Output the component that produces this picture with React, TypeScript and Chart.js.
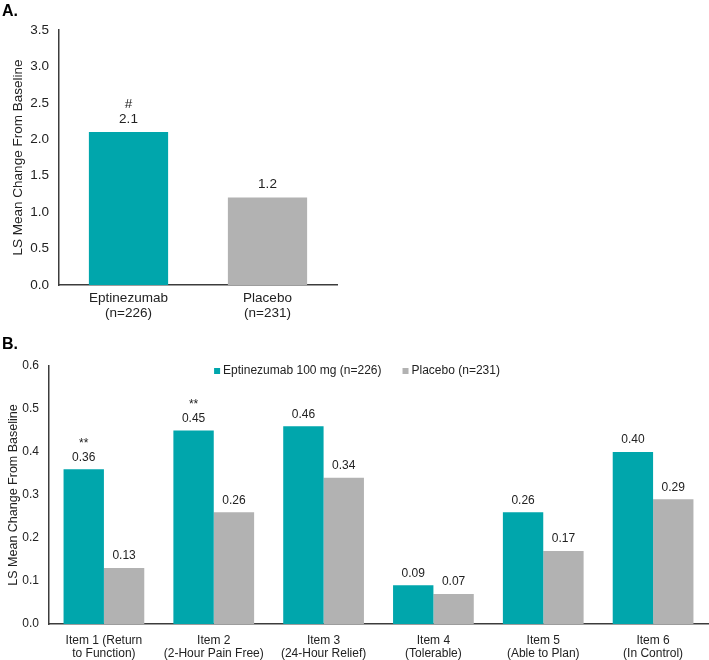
import React, { useEffect, useRef } from "react";
import { Chart, registerables } from "chart.js";

Chart.register(...registerables);

const FONT = "'Liberation Sans', Arial, Helvetica, sans-serif";
const TEXT = "#222222";
const AXIS = "#3c3c3c";
const TEAL = "#00A6AC";
const GRAY = "#B2B2B2";

// ---- Panel A data ----
const categoriesA: string[][] = [["Eptinezumab", "(n=226)"], ["Placebo", "(n=231)"]];
const valuesA: number[] = [2.1, 1.2];
const marksA: string[] = ["#", ""];
const yTitle = "LS Mean Change From Baseline";

// ---- Panel B data ----
const categoriesB: string[][] = [
  ["Item 1 (Return", "to Function)"],
  ["Item 2", "(2-Hour Pain Free)"],
  ["Item 3", "(24-Hour Relief)"],
  ["Item 4", "(Tolerable)"],
  ["Item 5", "(Able to Plan)"],
  ["Item 6", "(In Control)"],
];
const seriesNamesB: string[] = ["Eptinezumab 100 mg (n=226)", "Placebo (n=231)"];
const eptinezumabB: number[] = [0.36, 0.45, 0.46, 0.09, 0.26, 0.4];
const placeboB: number[] = [0.13, 0.26, 0.34, 0.07, 0.17, 0.29];
const marksEptB: string[] = ["**", "**", "", "", "", ""];
const marksPlaB: string[] = ["", "", "", "", "", ""];

const valueLabels = {
  id: "valueLabels",
  afterDatasetsDraw(chart: any, _args: any, opts: any) {
    const ctx = chart.ctx;
    chart.data.datasets.forEach((ds: any, di: number) => {
      const meta = chart.getDatasetMeta(di);
      meta.data.forEach((el: any, i: number) => {
        const v = ds.data[i];
        ctx.save();
        ctx.font = `${opts.size}px ${FONT}`;
        ctx.fillStyle = TEXT;
        ctx.textAlign = "center";
        ctx.textBaseline = "middle";
        ctx.fillText(Number(v).toFixed(opts.decimals), el.x, el.y - opts.offset);
        const mark = opts.marks && opts.marks[di] ? opts.marks[di][i] : "";
        if (mark) ctx.fillText(mark, el.x, el.y - opts.offset - opts.markGap);
        ctx.restore();
      });
    });
  },
};

const customLegend = {
  id: "customLegend",
  afterDraw(chart: any, _args: any, opts: any) {
    if (!opts || !opts.show) return;
    const ctx = chart.ctx;
    ctx.save();
    ctx.font = `${opts.size}px ${FONT}`;
    ctx.textBaseline = "middle";
    ctx.textAlign = "left";
    const box = 6;
    const gap = 3;
    const spacing = 21;
    const items = chart.data.datasets.map((ds: any) => ({
      label: ds.label,
      color: ds.backgroundColor,
      w: box + gap + ctx.measureText(ds.label).width,
    }));
    const total = items.reduce((s: number, it: any) => s + it.w, 0) + spacing * (items.length - 1);
    let x = opts.centerX - total / 2;
    const y = opts.y;
    items.forEach((it: any) => {
      ctx.fillStyle = it.color;
      ctx.fillRect(x, y - box / 2, box, box);
      ctx.fillStyle = TEXT;
      ctx.fillText(it.label, x + box + gap, y);
      x += it.w + spacing;
    });
    ctx.restore();
  },
};

export default function App() {
  const refA = useRef<HTMLCanvasElement>(null);
  const refB = useRef<HTMLCanvasElement>(null);

  useEffect(() => {
    Chart.defaults.font.family = FONT;
    Chart.defaults.color = TEXT;

    const chartA = new Chart(refA.current!, {
      type: "bar",
      data: {
        labels: categoriesA,
        datasets: [
          {
            label: "A",
            data: valuesA,
            backgroundColor: [TEAL, GRAY],
            barPercentage: 0.57,
            categoryPercentage: 1,
          },
        ],
      },
      options: {
        responsive: false,
        animation: false,
        layout: { padding: { left: 2, right: 53, top: 0, bottom: 0 } },
        plugins: {
          legend: { display: false },
          tooltip: { enabled: false },
          title: {
            display: true,
            text: "A.",
            align: "start",
            color: "#000",
            font: { size: 16, weight: "bold" },
            padding: { top: 2, bottom: 8.8 },
          },
          valueLabels: { size: 13.5, decimals: 1, offset: 13, markGap: 15, marks: [marksA] },
          customLegend: { show: false },
        } as any,
        scales: {
          x: {
            grid: { display: false, drawTicks: false },
            border: { display: true, color: AXIS, width: 1.5 },
            ticks: { color: TEXT, font: { size: 13.5, lineHeight: 1.11 }, padding: 5.5 },
            afterFit: (s: any) => {
              s.height = 45;
            },
          },
          y: {
            min: 0,
            max: 3.5,
            grid: { display: false, drawTicks: false },
            border: { display: true, color: AXIS, width: 1.5 },
            ticks: {
              stepSize: 0.5,
              color: TEXT,
              font: { size: 13.5 },
              padding: 10,
              callback: (v: any) => Number(v).toFixed(1),
            },
            title: {
              display: true,
              text: yTitle,
              color: TEXT,
              font: { size: 13.5 },
              padding: { top: 8, bottom: 4 },
            },
            afterFit: (s: any) => {
              s.width = 57;
            },
          },
        },
      },
      plugins: [valueLabels, customLegend],
    });

    const chartB = new Chart(refB.current!, {
      type: "bar",
      data: {
        labels: categoriesB,
        datasets: [
          {
            label: seriesNamesB[0],
            data: eptinezumabB,
            backgroundColor: TEAL,
            barPercentage: 1,
            categoryPercentage: 0.735,
          },
          {
            label: seriesNamesB[1],
            data: placeboB,
            backgroundColor: GRAY,
            barPercentage: 1,
            categoryPercentage: 0.735,
          },
        ],
      },
      options: {
        responsive: false,
        animation: false,
        layout: { padding: { left: 2, right: 1, top: 0, bottom: 0 } },
        plugins: {
          legend: { display: false },
          tooltip: { enabled: false },
          title: {
            display: true,
            text: "B.",
            align: "start",
            color: "#000",
            font: { size: 16, weight: "bold" },
            padding: { top: 5, bottom: 11.8 },
          },
          valueLabels: {
            size: 12,
            decimals: 2,
            offset: 12,
            markGap: 14,
            marks: [marksEptB, marksPlaB],
          },
          customLegend: { show: true, size: 12, centerX: 357, y: 41 },
        } as any,
        scales: {
          x: {
            grid: { display: false, drawTicks: false },
            border: { display: true, color: AXIS, width: 1.5 },
            ticks: { color: TEXT, font: { size: 12, lineHeight: 1.083 }, padding: 10.5 },
            afterFit: (s: any) => {
              s.height = 36;
            },
          },
          y: {
            min: 0,
            max: 0.6,
            grid: { display: false, drawTicks: false },
            border: { display: true, color: AXIS, width: 1.5 },
            ticks: {
              stepSize: 0.1,
              color: TEXT,
              font: { size: 12 },
              padding: 10,
              callback: (v: any) => Number(v).toFixed(1),
            },
            title: {
              display: true,
              text: yTitle,
              color: TEXT,
              font: { size: 12.5 },
              padding: { top: 4.5, bottom: 1 },
            },
            afterFit: (s: any) => {
              s.width = 47;
            },
          },
        },
      },
      plugins: [valueLabels, customLegend],
    });

    return () => {
      chartA.destroy();
      chartB.destroy();
    };
  }, []);

  return (
    <div style={{ position: "absolute", left: 0, top: 0, width: 709, height: 660, background: "#fff" }}>
      <canvas ref={refA} width={390} height={330} style={{ position: "absolute", left: 0, top: 0, display: "block" }} />
      <canvas ref={refB} width={709} height={330} style={{ position: "absolute", left: 0, top: 330, display: "block" }} />
    </div>
  );
}
